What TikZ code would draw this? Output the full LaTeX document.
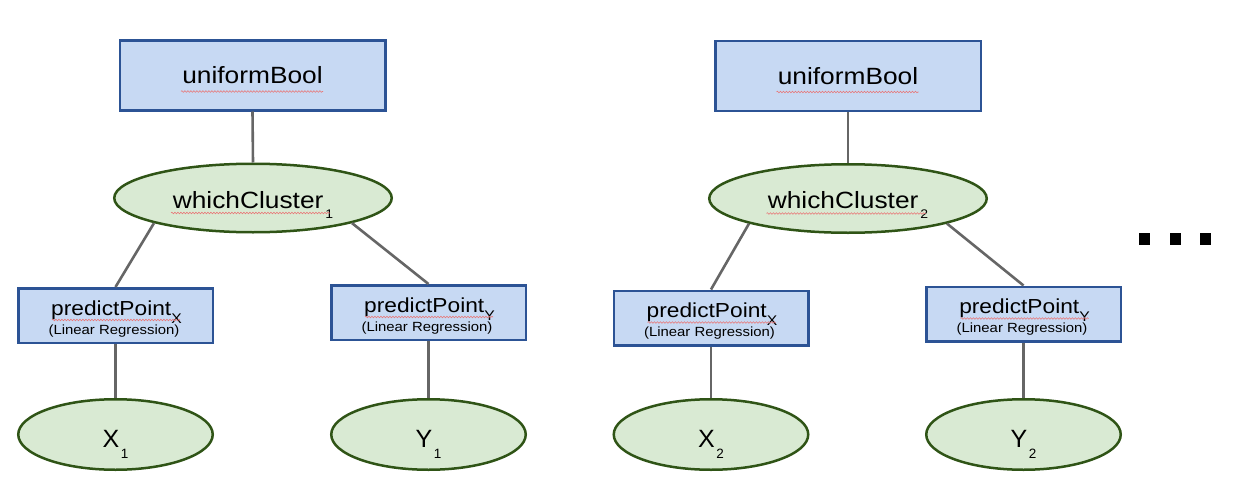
\documentclass[tikz,border=0pt]{standalone}
\usepackage{fontspec}
\setmainfont{Liberation Sans}
\newfontfamily\widefont{Liberation Sans}[FakeStretch=1.12]
\usetikzlibrary{shapes.geometric,decorations.pathmorphing}
\definecolor{boxfill}{HTML}{C7D9F3}
\definecolor{boxline}{HTML}{2C5395}
\definecolor{ellfill}{HTML}{D9EAD3}
\definecolor{ellline}{HTML}{2F5416}
\definecolor{conn}{HTML}{666666}
\definecolor{squig}{HTML}{E87878}
\newcommand\lowsub[3]{\raisebox{-#1pt}{\fontsize{#2}{#2}\selectfont #3}}
\tikzset{
  bluebox/.style={draw=boxline, fill=boxfill, line width=2.5pt, rectangle, inner sep=0pt},
  greenell/.style={draw=ellline, fill=ellfill, line width=2.5pt, ellipse, inner sep=0pt},
  conline/.style={draw=conn, line width=2.6pt},
  bigtxt/.style={anchor=base, inner sep=0pt, font=\widefont\fontsize{23.5}{28}\selectfont},
  midtxt/.style={anchor=base, inner sep=0pt, font=\widefont\fontsize{20.3}{23}\selectfont},
  smalltxt/.style={anchor=base, inner sep=0pt, font=\widefont\fontsize{13.3}{15}\selectfont},
  vartxt/.style={anchor=base, inner sep=0pt, font=\fontsize{25}{30}\selectfont},
  squiggle/.style={draw=squig, line width=0.6pt, decorate, decoration={snake, amplitude=0.8pt, segment length=3pt}},
  dotbox/.style={fill=black, rectangle, inner sep=0pt, minimum width=11pt, minimum height=12pt}
}
\begin{document}
\begin{tikzpicture}[x=1pt,y=-1pt]
\useasboundingbox (0,0) rectangle (1234,487);
% ---------- left tree ----------
\node[bluebox, minimum width=265.5pt, minimum height=69.5pt] (ub1) at (252.5,75.5) {};
\node[greenell, minimum width=277.5pt, minimum height=68.5pt] (wc1) at (253,198) {};
\node[bluebox, minimum width=194.5pt, minimum height=54.5pt] (px1) at (115.5,315.5) {};
\node[bluebox, minimum width=194.5pt, minimum height=54.5pt] (py1) at (428.5,312.5) {};
\node[greenell, minimum width=194.5pt, minimum height=70.5pt] (x1) at (115.5,434.5) {};
\node[greenell, minimum width=194.5pt, minimum height=70.5pt] (y1) at (428.5,434.5) {};
% ---------- right tree ----------
\node[bluebox, minimum width=265.5pt, minimum height=69.5pt] (ub2) at (848,76) {};
\node[greenell, minimum width=277.5pt, minimum height=68.5pt] (wc2) at (848,198.5) {};
\node[bluebox, minimum width=194.5pt, minimum height=54.5pt] (px2) at (711,318) {};
\node[bluebox, minimum width=194.5pt, minimum height=54.5pt] (py2) at (1023.5,314) {};
\node[greenell, minimum width=194.5pt, minimum height=70.5pt] (x2) at (711,434.5) {};
\node[greenell, minimum width=194.5pt, minimum height=70.5pt] (y2) at (1023.5,434.5) {};
% ---------- connectors ----------
\draw[conline] (ub1.south) -- (wc1.north);
\draw[conline] (wc1.south west) -- (px1.north);
\draw[conline] (wc1.south east) -- (py1.north);
\draw[conline] (px1.south) -- (x1.north);
\draw[conline] (py1.south) -- (y1.north);
\draw[conline] (ub2.south) -- (wc2.north);
\draw[conline] (wc2.south west) -- (px2.north);
\draw[conline] (wc2.south east) -- (py2.north);
\draw[conline] (px2.south) -- (x2.north);
\draw[conline] (py2.south) -- (y2.north);
% ---------- texts, left ----------
\node[bigtxt] (ub1t) at (252.5,84) {uniformBool};
\node[bigtxt] (wc1t) at (253,208) {whichCluster\hspace{2pt}\lowsub{10}{12.5}{1}};
\node[midtxt] (px1t) at (116.5,315) {predictPoint\lowsub{8}{14}{X}};
\node[smalltxt] (px1l) at (114,334) {(Linear Regression)};
\node[midtxt] (py1t) at (429.5,312) {predictPoint\lowsub{8}{14}{Y}};
\node[smalltxt] (py1l) at (427,331) {(Linear Regression)};
\node[vartxt] (x1t) at (115.5,447) {X\hspace{1.5pt}\lowsub{11}{13.5}{1}};
\node[vartxt] (y1t) at (428.5,447) {Y\hspace{1.5pt}\lowsub{11}{13.5}{1}};
% ---------- texts, right ----------
\node[bigtxt] (ub2t) at (848,84.5) {uniformBool};
\node[bigtxt] (wc2t) at (848,208.5) {whichCluster\hspace{2pt}\lowsub{10}{12.5}{2}};
\node[midtxt] (px2t) at (712,317.5) {predictPoint\lowsub{8}{14}{X}};
\node[smalltxt] (px2l) at (709.5,336.5) {(Linear Regression)};
\node[midtxt] (py2t) at (1024.5,313.5) {predictPoint\lowsub{8}{14}{Y}};
\node[smalltxt] (py2l) at (1022,332.5) {(Linear Regression)};
\node[vartxt] (x2t) at (711,447) {X\hspace{1.5pt}\lowsub{11}{13.5}{2}};
\node[vartxt] (y2t) at (1023.5,447) {Y\hspace{1.5pt}\lowsub{11}{13.5}{2}};
% ---------- spell-check squiggles ----------
\draw[squiggle] (181,91.5) -- (323,91.5);
\draw[squiggle] (171,213) -- (330,213);
\draw[squiggle] (52,320) -- (180,320);
\draw[squiggle] (365,317) -- (493,317);
\draw[squiggle] (776.5,92) -- (918.5,92);
\draw[squiggle] (766.5,213.5) -- (925.5,213.5);
\draw[squiggle] (647.5,322.5) -- (775.5,322.5);
\draw[squiggle] (960.5,318.5) -- (1088.5,318.5);
% ---------- continuation dots ----------
\node[dotbox] (dot1) at (1144.5,239) {};
\node[dotbox] (dot2) at (1175.5,239) {};
\node[dotbox] (dot3) at (1205.5,239) {};
\end{tikzpicture}
\end{document}
